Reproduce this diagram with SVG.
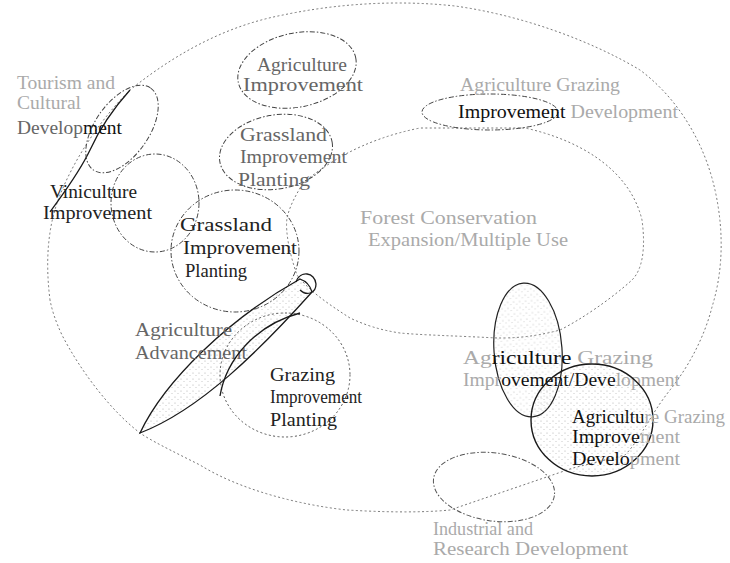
<svg xmlns="http://www.w3.org/2000/svg" width="730" height="563" viewBox="0 0 730 563">
<style>
.dot{fill:none;stroke:#777;stroke-width:1;stroke-dasharray:1.2 3.2;stroke-linecap:round}
.dash{fill:none;stroke:#444;stroke-width:1;stroke-dasharray:5 2 1.5 2}
.solid{fill:none;stroke:#1a1a1a;stroke-width:1.3}
text{font-family:"Liberation Serif","Times New Roman",serif;font-size:19px;fill:#222}
.f{fill:#aaa}
.m{fill:#666}
.d{fill:#111}
</style>
<defs>
<pattern id="stip" width="6" height="6" patternUnits="userSpaceOnUse">
<circle cx="1" cy="1" r="0.6" fill="#888"/><circle cx="4" cy="3.5" r="0.5" fill="#9a9a9a"/>
</pattern>
</defs>
<rect width="730" height="563" fill="#fff"/>

<g id="connectors">
<path class="dot" d="M50,300 C45,260 48,225 60,195 C72,165 95,125 130,90 C180,50 230,25 283,15 C340,3 400,0 455,6 C520,15 590,40 640,70 C680,100 705,145 715,190 C725,235 722,275 712,307 C705,335 690,365 670,390 C650,415 640,440 625,455 L573,468 L450,510 C420,513 380,512 347,510 C300,505 240,490 200,465 C170,450 150,440 140,433 C110,410 80,370 62,335 C55,320 52,310 50,300 Z"/>
<path class="solid" d="M130,90 C112,110 100,128 90,150 C78,175 62,195 50,212" stroke-width="1"/>
</g>

<g id="n-forest">
<path class="dot" d="M303,183 C325,165 360,140 420,128 L525,128 C580,140 630,170 642,220 C646,250 642,270 632,280 C610,300 580,320 560,330 C530,338 510,338 497,338 C460,336 420,335 400,333 C380,330 365,325 350,318 C330,305 310,292 297,275 C290,255 285,232 287,218 C290,205 296,195 303,183 Z"/>
<text x="360" y="224" textLength="177" lengthAdjust="spacingAndGlyphs" class="f">Forest Conservation</text>
<text x="368" y="246" textLength="200" lengthAdjust="spacingAndGlyphs" class="f">Expansion/Multiple Use</text>
</g>

<g id="n-tourism">
<ellipse class="dash" cx="122" cy="129" rx="50" ry="27" transform="rotate(-55 122 129)"/>
<text x="17" y="89" textLength="98" lengthAdjust="spacingAndGlyphs" class="f">Tourism and</text>
<text x="17" y="109" textLength="64" lengthAdjust="spacingAndGlyphs" class="f">Cultural</text>
<text x="17" y="134" textLength="105" lengthAdjust="spacingAndGlyphs"><tspan class="m">Develop</tspan><tspan class="d">ment</tspan></text>
</g>

<g id="n-agri-top">
<ellipse class="dash" cx="297" cy="70" rx="60" ry="37" transform="rotate(-12 297 70)"/>
<text x="257" y="71" textLength="90" lengthAdjust="spacingAndGlyphs" class="m">Agriculture</text>
<text x="243" y="91" textLength="120" lengthAdjust="spacingAndGlyphs" class="m">Improvement</text>
</g>

<g id="n-grass-top">
<ellipse class="dash" cx="276" cy="152" rx="57" ry="37" transform="rotate(-10 276 152)"/>
<text x="240" y="141" textLength="87" lengthAdjust="spacingAndGlyphs" class="m">Grassland</text>
<text x="240" y="163" textLength="107" lengthAdjust="spacingAndGlyphs" class="m">Improvement</text>
<text x="238" y="186" textLength="72" lengthAdjust="spacingAndGlyphs" class="m">Planting</text>
</g>

<g id="n-vini">
<ellipse class="dash" cx="155" cy="203" rx="44" ry="49"/>
<text x="50" y="198" textLength="87" lengthAdjust="spacingAndGlyphs">Viniculture</text>
<text x="43" y="219" textLength="109" lengthAdjust="spacingAndGlyphs">Improvement</text>
</g>

<g id="n-grass-big">
<ellipse class="dash" cx="235" cy="251" rx="64" ry="61"/>
<text x="180" y="231" textLength="92" lengthAdjust="spacingAndGlyphs">Grassland</text>
<text x="183" y="254" textLength="114" lengthAdjust="spacingAndGlyphs">Improvement</text>
<text x="185" y="277" textLength="62" lengthAdjust="spacingAndGlyphs">Planting</text>
</g>

<g id="n-agri-adv">
<path d="M140,433 C165,380 230,318 300,279 C306,281 310,285 312,292 C260,350 200,410 140,433 Z" fill="url(#stip)" fill-opacity="0.7" stroke="#1a1a1a" stroke-width="1.3"/>
<path class="solid" d="M296,282 C300,270 315,272 316,284 C316,294 306,296 300,290" stroke-width="1"/>
<text x="135" y="336" textLength="97" lengthAdjust="spacingAndGlyphs" class="m">Agriculture</text>
<text x="135" y="359" textLength="112" lengthAdjust="spacingAndGlyphs" class="m">Advancement</text>
</g>

<g id="n-grazing">
<ellipse class="dot" cx="285" cy="375" rx="65" ry="62" style="stroke:#555"/>
<path class="solid" d="M220,396 C226,360 255,325 300,313"/>
<text x="270" y="381" textLength="65" lengthAdjust="spacingAndGlyphs">Grazing</text>
<text x="270" y="403" textLength="92" lengthAdjust="spacingAndGlyphs">Improvement</text>
<text x="270" y="426" textLength="67" lengthAdjust="spacingAndGlyphs">Planting</text>
</g>

<g id="n-agri-graz-top">
<ellipse class="dash" cx="490" cy="112" rx="68" ry="18"/>
<text x="460" y="91" textLength="160" lengthAdjust="spacingAndGlyphs" class="f">Agriculture Grazing</text>
<text x="458" y="118" textLength="220" lengthAdjust="spacingAndGlyphs"><tspan class="d">Improvement</tspan><tspan class="f"> Development</tspan></text>
</g>

<g id="n-tall">
<ellipse cx="528" cy="350" rx="34" ry="67" transform="rotate(-4 528 350)" fill="url(#stip)" fill-opacity="0.6" stroke="#222" stroke-width="1.2"/>
<text x="463" y="364" textLength="190" lengthAdjust="spacingAndGlyphs"><tspan class="f">Ag</tspan><tspan class="d">riculture</tspan><tspan class="f"> Grazing</tspan></text>
<text x="463" y="386" textLength="217" lengthAdjust="spacingAndGlyphs"><tspan class="f">Impr</tspan><tspan class="d">ovement/Deve</tspan><tspan class="f">lopment</tspan></text>
</g>

<g id="n-circle">
<ellipse cx="592" cy="420" rx="61" ry="56" fill="url(#stip)" fill-opacity="0.7" stroke="#1a1a1a" stroke-width="1.4"/>
<text x="572" y="423" textLength="153" lengthAdjust="spacingAndGlyphs"><tspan class="d">Agricultu</tspan><tspan class="f">re Grazing</tspan></text>
<text x="572" y="443" textLength="108" lengthAdjust="spacingAndGlyphs"><tspan class="d">Improve</tspan><tspan class="f">ment</tspan></text>
<text x="572" y="465" textLength="108" lengthAdjust="spacingAndGlyphs"><tspan class="d">Develo</tspan><tspan class="f">pment</tspan></text>
</g>

<g id="n-industrial">
<ellipse class="dash" cx="494" cy="487" rx="61" ry="34" transform="rotate(8 494 487)" style="stroke:#555"/>
<text x="433" y="535" textLength="100" lengthAdjust="spacingAndGlyphs" class="f">Industrial and</text>
<text x="433" y="555" textLength="195" lengthAdjust="spacingAndGlyphs" class="f">Research Development</text>
</g>
</svg>
